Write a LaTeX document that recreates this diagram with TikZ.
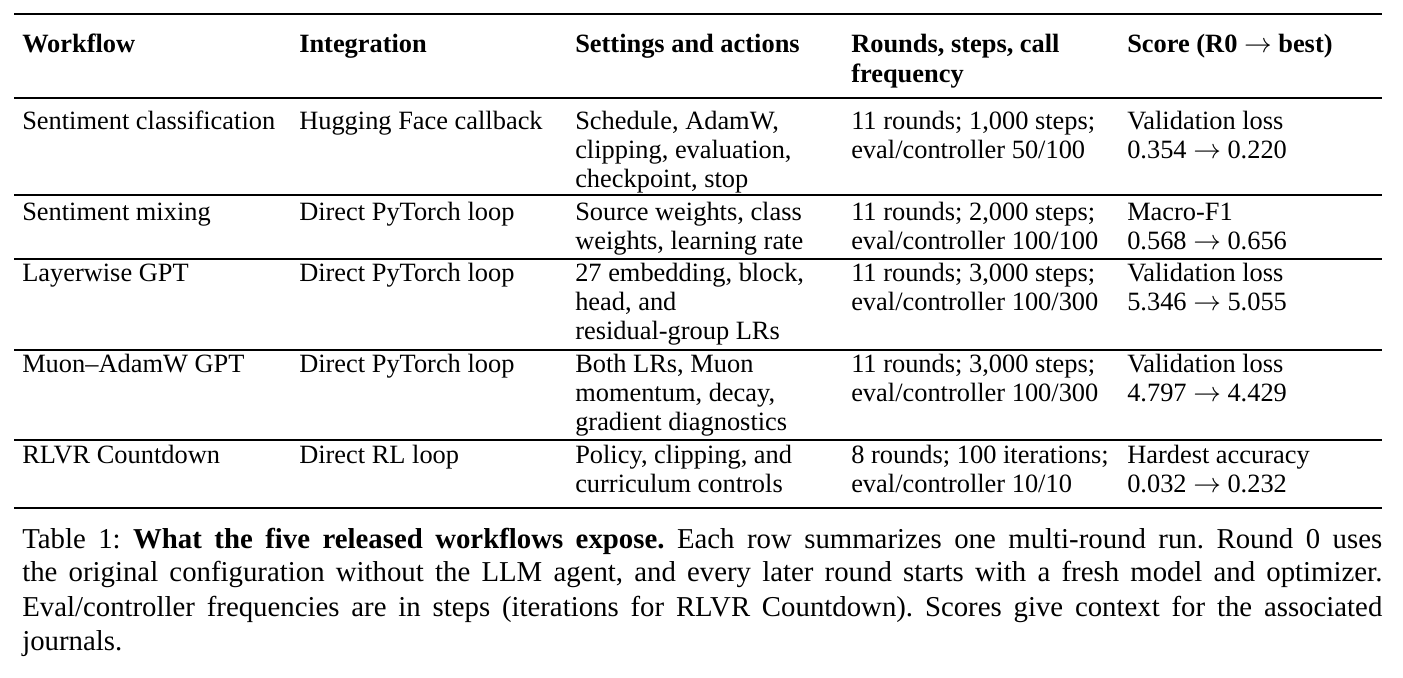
\documentclass[tikz,border=0pt]{standalone}
\usepackage{fontspec}
\setmainfont{Liberation Serif}
\begin{document}
\frenchspacing
\begin{tikzpicture}[x=0.75pt,y=-0.75pt,
  t/.style={anchor=mid west,inner sep=0pt,yshift=-3pt,font=\fontsize{19.8}{22}\selectfont},
  h/.style={t,font=\fontsize{19.8}{22}\selectfont\bfseries},
  c/.style={anchor=mid west,inner sep=0pt,yshift=-3pt,font=\fontsize{21.6}{24}\selectfont},
  thick rule/.style={line width=1.6pt},
  thin rule/.style={line width=0.8pt}]
\useasboundingbox (0,0) rectangle (1403,678);
\draw[thick rule] (14,14) -- (1382,14);
\draw[thin rule] (14,98) -- (1382,98);
\draw[thin rule] (14,195) -- (1382,195);
\draw[thin rule] (14,259) -- (1382,259);
\draw[thin rule] (14,350) -- (1382,350);
\draw[thin rule] (14,440) -- (1382,440);
\draw[thick rule] (14,508) -- (1382,508);
% header
\node[h] (h1) at (22,45) {Workflow};
\node[h] (h2) at (299,45) {Integration};
\node[h] (h3) at (575,45) {Settings and actions};
\node[h] (h4a) at (851,45) {Rounds, steps, call};
\node[h] (h4b) at (851,75) {frequency};
\node[h] (h5) at (1127,45) {Score (R0 $\rightarrow$ best)};
% row 1
\node[t] (a1) at (22,122) {Sentiment classification};
\node[t] (b1) at (299,122) {Hugging Face callback};
\node[t] (c1a) at (575,122) {Schedule, AdamW,};
\node[t] (c1b) at (575,151) {clipping, evaluation,};
\node[t] (c1c) at (575,180) {checkpoint, stop};
\node[t] (d1a) at (851,122) {11 rounds; 1,000 steps;};
\node[t] (d1b) at (851,151) {eval/controller 50/100};
\node[t] (e1a) at (1127,122) {Validation loss};
\node[t] (e1b) at (1127,151) {0.354 $\rightarrow$ 0.220};
% row 2
\node[t] (a2) at (22,213) {Sentiment mixing};
\node[t] (b2) at (299,213) {Direct PyTorch loop};
\node[t] (c2a) at (575,213) {Source weights, class};
\node[t] (c2b) at (575,242) {weights, learning rate};
\node[t] (d2a) at (851,213) {11 rounds; 2,000 steps;};
\node[t] (d2b) at (851,242) {eval/controller 100/100};
\node[t] (e2a) at (1127,213) {Macro-F1};
\node[t] (e2b) at (1127,242) {0.568 $\rightarrow$ 0.656};
% row 3
\node[t] (a3) at (22,274) {Layerwise GPT};
\node[t] (b3) at (299,274) {Direct PyTorch loop};
\node[t] (c3a) at (575,274) {27 embedding, block,};
\node[t] (c3b) at (575,303) {head, and};
\node[t] (c3c) at (575,332) {residual-group LRs};
\node[t] (d3a) at (851,274) {11 rounds; 3,000 steps;};
\node[t] (d3b) at (851,303) {eval/controller 100/300};
\node[t] (e3a) at (1127,274) {Validation loss};
\node[t] (e3b) at (1127,303) {5.346 $\rightarrow$ 5.055};
% row 4
\node[t] (a4) at (22,365) {Muon--AdamW GPT};
\node[t] (b4) at (299,365) {Direct PyTorch loop};
\node[t] (c4a) at (575,365) {Both LRs, Muon};
\node[t] (c4b) at (575,394) {momentum, decay,};
\node[t] (c4c) at (575,423) {gradient diagnostics};
\node[t] (d4a) at (851,365) {11 rounds; 3,000 steps;};
\node[t] (d4b) at (851,394) {eval/controller 100/300};
\node[t] (e4a) at (1127,365) {Validation loss};
\node[t] (e4b) at (1127,394) {4.797 $\rightarrow$ 4.429};
% row 5
\node[t] (a5) at (22,456) {RLVR Countdown};
\node[t] (b5) at (299,456) {Direct RL loop};
\node[t] (c5a) at (575,456) {Policy, clipping, and};
\node[t] (c5b) at (575,485) {curriculum controls};
\node[t] (d5a) at (851,456) {8 rounds; 100 iterations;};
\node[t] (d5b) at (851,485) {eval/controller 10/10};
\node[t] (e5a) at (1127,456) {Hardest accuracy};
\node[t] (e5b) at (1127,485) {0.032 $\rightarrow$ 0.232};
% caption
\node[c] (cap1) at (22,541) {\makebox[1020pt][s]{Table 1: \textbf{What the five released workflows expose.} Each row summarizes one multi-round run. Round 0 uses}};
\node[c] (cap2) at (22,574) {\makebox[1020pt][s]{the original configuration without the LLM agent, and every later round starts with a fresh model and optimizer.}};
\node[c] (cap3) at (22,609) {\makebox[1020pt][s]{Eval/controller frequencies are in steps (iterations for RLVR Countdown). Scores give context for the associated}};
\node[c] (cap4) at (22,643) {journals.};
\end{tikzpicture}
\end{document}
